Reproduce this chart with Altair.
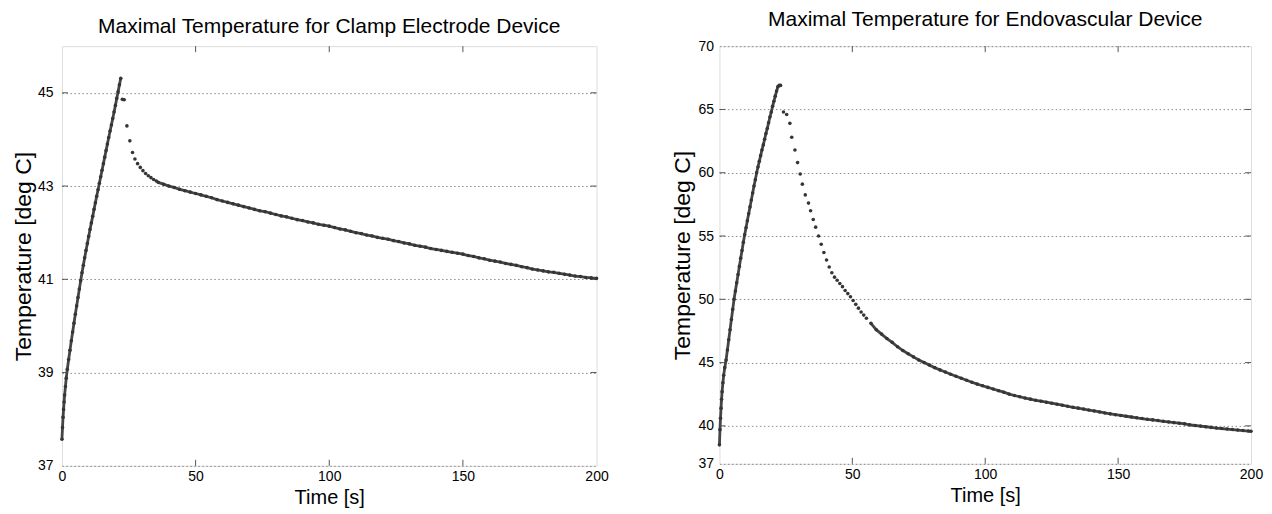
import altair as alt
import pandas as pd

FONT = "Liberation Sans, Arial, Helvetica, sans-serif"
DOT = "#353535"
LINE = "#454545"
FRAME = "#7a7a7a"

x_ticks = [0, 50, 100, 150, 200]
x_inner = [50, 100, 150]

# ---------------- Clamp electrode device ----------------
clamp_title = "Maximal Temperature for Clamp Electrode Device"
clamp_yticks = [37, 39, 41, 43, 45]
clamp_yinner = [39, 41, 43, 45]
clamp_heat_t = [0.0, 0.2, 0.4, 0.6, 0.8, 1.0, 1.3, 1.6, 2.0, 2.5, 3.0, 3.5, 4.0, 4.5,
                5.0, 5.5, 6.0, 6.5, 7.0, 7.5, 8.0, 8.5, 9.0, 9.5, 10.0, 10.5, 11.0,
                11.5, 12.0, 12.5, 13.0, 13.5, 14.0, 14.5, 15.0, 15.5, 16.0, 16.5,
                17.0, 17.5, 18.0, 18.5, 19.0, 19.5, 20.0, 20.5, 21.0, 21.5, 22.0]
clamp_heat_T = [37.57, 37.82, 38.04, 38.21, 38.37, 38.52, 38.70, 38.88, 39.07, 39.28,
                39.48, 39.68, 39.87, 40.06, 40.25, 40.43, 40.61, 40.79, 40.97, 41.14,
                41.30, 41.46, 41.62, 41.77, 41.92, 42.07, 42.21, 42.35, 42.50, 42.64,
                42.78, 42.92, 43.06, 43.20, 43.34, 43.48, 43.62, 43.76, 43.90, 44.04,
                44.18, 44.31, 44.45, 44.59, 44.73, 44.88, 45.02, 45.17, 45.31]
clamp_drop_t = [22.6, 23.3, 24.3, 25.4, 26.4, 27.3, 28.3, 29.3, 30.3, 31.3, 32.3,
                33.3, 34.3, 35.3]
clamp_drop_T = [44.86, 44.85, 44.29, 43.97, 43.72, 43.58, 43.48, 43.40, 43.33, 43.27,
                43.22, 43.18, 43.14, 43.11]
clamp_tail_t = [36, 38, 40, 42, 44, 46, 48, 50, 52, 54, 56, 58, 60, 62, 64, 66, 68, 70,
                72, 74, 76, 78, 80, 82, 84, 86, 88, 90, 92, 94, 96, 98, 100, 102, 104,
                106, 108, 110, 112, 114, 116, 118, 120, 122, 124, 126, 128, 130, 132,
                134, 136, 138, 140, 142, 144, 146, 148, 150, 152, 154, 156, 158, 160,
                162, 164, 166, 168, 170, 172, 174, 176, 178, 180, 182, 184, 186, 188,
                190, 192, 194, 196, 198, 200]
clamp_tail_T = [43.08, 43.04, 43.00, 42.97, 42.93, 42.90, 42.87, 42.84, 42.81, 42.78,
                42.75, 42.71, 42.68, 42.65, 42.62, 42.59, 42.56, 42.53, 42.50, 42.47,
                42.45, 42.42, 42.39, 42.36, 42.34, 42.31, 42.28, 42.26, 42.23, 42.21,
                42.18, 42.16, 42.14, 42.11, 42.08, 42.06, 42.03, 42.00, 41.98, 41.95,
                41.93, 41.90, 41.88, 41.86, 41.83, 41.81, 41.78, 41.76, 41.73, 41.71,
                41.69, 41.66, 41.64, 41.62, 41.60, 41.58, 41.56, 41.54, 41.51, 41.49,
                41.46, 41.44, 41.41, 41.39, 41.37, 41.34, 41.32, 41.30, 41.27, 41.25,
                41.22, 41.20, 41.18, 41.16, 41.15, 41.13, 41.11, 41.09, 41.07, 41.06,
                41.04, 41.03, 41.02]

# ---------------- Endovascular device ----------------
endo_title = "Maximal Temperature for Endovascular Device"
endo_yticks = [37, 40, 45, 50, 55, 60, 65, 70]
endo_yinner = [40, 45, 50, 55, 60, 65]
endo_heat_t = [0.0, 0.2, 0.4, 0.6, 0.8, 1.0, 1.3, 1.6, 2.0, 2.5, 3.0, 3.5, 4.0, 4.5,
               5.0, 5.5, 6.0, 6.5, 7.0, 7.5, 8.0, 8.5, 9.0, 9.5, 10.0, 10.5, 11.0,
               11.5, 12.0, 12.5, 13.0, 13.5, 14.0, 14.5, 15.0, 15.5, 16.0, 16.5, 17.0,
               17.5, 18.0, 18.5, 19.0, 19.5, 20.0, 20.5, 21.0, 21.5, 22.0, 22.5, 23.0]
endo_heat_T = [38.5, 39.7, 40.6, 41.4, 42.1, 42.7, 43.4, 44.0, 44.6, 45.2, 46.0, 46.8,
               47.6, 48.4, 49.2, 50.0, 50.65, 51.3, 51.95, 52.6, 53.25, 53.85, 54.5,
               55.1, 55.65, 56.2, 56.75, 57.3, 57.85, 58.4, 58.95, 59.45, 60.0, 60.45,
               60.9, 61.35, 61.8, 62.2, 62.65, 63.1, 63.5, 63.95, 64.4, 64.8, 65.25,
               65.65, 66.05, 66.45, 66.8, 66.9, 66.9]
endo_drop_t = [24.1, 25.3, 26.5, 27.2, 28.4, 29.4, 30.4, 31.2, 32.3, 33.5, 34.3, 35.3,
               36.2, 37.3, 38.3, 39.3, 40.3, 41.3, 42.3, 43.3, 44.3, 45.3, 46.3, 47.3,
               48.3, 49.3, 50.3, 51.3, 52.3, 53.3, 54.3, 55.3]
endo_drop_T = [64.8, 64.6, 63.9, 62.8, 61.8, 60.8, 59.9, 59.1, 58.25, 57.6, 57.0, 56.3,
               55.7, 55.0, 54.35, 53.7, 53.1, 52.55, 52.1, 51.75, 51.5, 51.25, 51.0,
               50.7, 50.45, 50.2, 49.9, 49.6, 49.3, 49.0, 48.75, 48.5]
endo_tail_t = [57, 59, 61, 63, 65, 67, 69, 71, 73, 75, 77, 79, 81, 83, 85, 87, 89, 91,
               93, 95, 97, 99, 101, 103, 105, 107, 109, 111, 113, 115, 117, 119, 121,
               123, 125, 127, 129, 131, 133, 135, 137, 139, 141, 143, 145, 147, 149,
               151, 153, 155, 157, 159, 161, 163, 165, 167, 169, 171, 173, 175, 177,
               179, 181, 183, 185, 187, 189, 191, 193, 195, 197, 199, 200]
endo_tail_T = [48.1, 47.6, 47.25, 46.9, 46.6, 46.25, 45.95, 45.7, 45.45, 45.2, 45.0,
               44.8, 44.6, 44.42, 44.25, 44.08, 43.92, 43.76, 43.6, 43.45, 43.3, 43.17,
               43.04, 42.91, 42.78, 42.66, 42.51, 42.40, 42.30, 42.20, 42.11, 42.02,
               41.95, 41.87, 41.79, 41.71, 41.63, 41.55, 41.47, 41.40, 41.33, 41.25,
               41.18, 41.10, 41.02, 40.95, 40.88, 40.82, 40.76, 40.70, 40.64, 40.58,
               40.52, 40.47, 40.42, 40.36, 40.31, 40.26, 40.21, 40.16, 40.08, 40.03,
               39.98, 39.93, 39.88, 39.83, 39.79, 39.75, 39.71, 39.67, 39.63, 39.59,
               39.57]


def panel(title, heat_t, heat_T, drop_t, drop_T, tail_t, tail_T,
          ydomain, yticks, yinner, label_pad, title_pad, w, h):
    heat = pd.DataFrame({"t": heat_t, "T": heat_T})
    drop = pd.DataFrame({"t": drop_t, "T": drop_T})
    tail = pd.DataFrame({"t": tail_t, "T": tail_T})
    allpts = pd.concat([heat, drop, tail], ignore_index=True)

    x = alt.X("t:Q", scale=alt.Scale(domain=[0, 200], nice=False),
              axis=alt.Axis(values=x_ticks, title="Time [s]", grid=False, ticks=False,
                            domain=False, labelFlush=False, labelPadding=4,
                            titlePadding=4, labelFontSize=14, titleFontSize=20,
                            labelColor="black", titleColor="black",
                            labelFont=FONT, titleFont=FONT, titleFontWeight="normal"))
    y = alt.Y("T:Q", scale=alt.Scale(domain=ydomain, nice=False, zero=False),
              axis=alt.Axis(values=yticks, title="Temperature [deg C]", grid=True,
                            gridDash=[1.5, 2.5], gridColor="#8a8a8a", gridWidth=1,
                            ticks=False, domain=False, labelFlush=False,
                            labelOverlap=False, labelPadding=label_pad,
                            titlePadding=title_pad, labelFontSize=14, titleFontSize=23,
                            labelColor="black", titleColor="black",
                            labelFont=FONT, titleFont=FONT, titleFontWeight="normal"))

    heat_line = alt.Chart(heat).mark_line(color=LINE, strokeWidth=2.8).encode(x=x, y=y)
    tail_line = alt.Chart(tail).mark_line(color=LINE, strokeWidth=2.8).encode(x=x, y=y)
    dots = alt.Chart(allpts).mark_circle(color=DOT, size=13, opacity=1).encode(x=x, y=y)

    xt = pd.DataFrame({"t": x_inner})
    yt = pd.DataFrame({"T": yinner})
    top_ticks = alt.Chart(xt).mark_rule(color="#555", strokeWidth=1).encode(
        x=x, y=alt.value(0), y2=alt.value(6))
    bot_ticks = alt.Chart(xt).mark_rule(color="#555", strokeWidth=1).encode(
        x=x, y=alt.value(h - 6), y2=alt.value(h))
    right_ticks = alt.Chart(yt).mark_rule(color="#555", strokeWidth=1).encode(
        y=y, x=alt.value(w - 6), x2=alt.value(w))
    left_ticks = alt.Chart(yt).mark_rule(color="#555", strokeWidth=1).encode(
        y=y, x=alt.value(0), x2=alt.value(6))

    return alt.layer(top_ticks, bot_ticks, right_ticks, left_ticks,
                     heat_line, tail_line, dots).properties(
        width=w, height=h,
        title=alt.TitleParams(title, fontSize=21, font=FONT, fontWeight="normal",
                              color="black", baseline="alphabetic", offset=-8,
                              anchor="middle"))


left = panel(clamp_title, clamp_heat_t, clamp_heat_T, clamp_drop_t, clamp_drop_T,
             clamp_tail_t, clamp_tail_T, [37, 46], clamp_yticks, clamp_yinner,
             9, 2, 535, 420)
right = panel(endo_title, endo_heat_t, endo_heat_T, endo_drop_t, endo_drop_T,
              endo_tail_t, endo_tail_T, [37, 70], endo_yticks, endo_yinner,
              6, 3, 532, 418)

chart = alt.hconcat(left, right, spacing=61).properties(
    padding={"left": 3, "top": 0, "right": 0, "bottom": 0}
).configure_view(stroke=FRAME, strokeWidth=1.5).configure(background="white")

chart.save("out.html", embed_options={"renderer": "svg", "actions": False})
